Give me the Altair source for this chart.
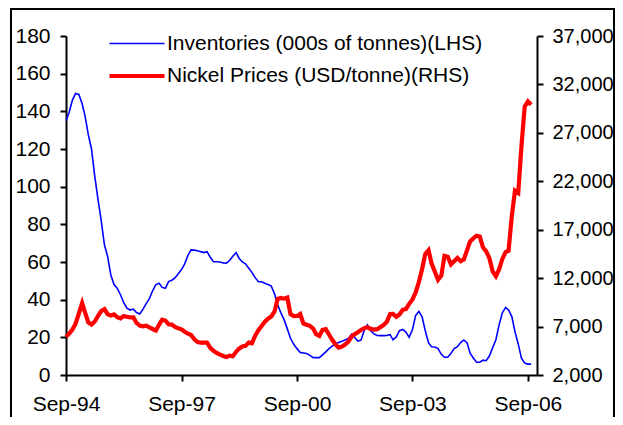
import altair as alt
import pandas as pd

start_month = "1994-09-01"
series_names = ["Inventories (000s of tonnes)(LHS)", "Nickel Prices (USD/tonne)(RHS)"]
series_colors = ["#0000ff", "#ff0000"]
series_widths = [1.6, 4.2]

# Monthly values, Sep-94 .. Oct-06
inventories = [
    135, 139.5, 146, 149.5, 149, 144, 137.5, 127.5, 120, 105.5,
    93.5, 82, 69, 63, 53, 48, 46, 42.5, 38.5, 35.5,
    34.5, 35, 33.2, 32.4, 35, 37.9, 40.7, 44.7, 48, 48.7,
    46.5, 46, 49.6, 50.3, 51.5, 53.7, 56, 59, 63.5, 66.4,
    66.3, 66, 65.5, 65, 65.5, 62.5, 60.2, 60.1, 60, 59.5,
    59.4, 60.8, 63, 65, 62, 60, 59, 56.7, 54.5, 51.7,
    49.5, 49.5, 48.7, 48, 47.2, 43, 37.3, 33, 29.4, 24.5,
    19.5, 16.3, 14, 12, 11.7, 11.4, 10.4, 9.2, 9.2, 9.2,
    10.7, 12.3, 14, 15.3, 16.6, 17.3, 17.9, 18.6, 19.4, 21.7,
    20, 18, 18.5, 23.7, 26.6, 23.5, 21.8, 21, 20.9, 20.9,
    21, 21.4, 18.7, 20.2, 23.5, 24.2, 22.8, 20, 24, 31.5,
    33.8, 31, 23.5, 17, 15, 14.9, 14, 11, 9.4, 9.4,
    11.5, 14, 15, 17.2, 18.6, 17, 11.6, 9, 6.8, 6.8,
    7.9, 7.6, 10.2, 14.5, 18.7, 26.5, 33, 35.9, 34.5, 31,
    23, 16.5, 9, 6.3, 5.8, 5.8,
]
prices = [
    5950, 6270, 6700, 7300, 8350, 9430, 8430, 7430, 7200, 7520,
    8090, 8600, 8800, 8280, 8150, 8250, 7960, 7840, 8080, 8010,
    7955, 7955, 7370, 7100, 7020, 7085, 6910, 6750, 6590, 7210,
    7710, 7620, 7240, 7200, 6960, 6830, 6720, 6470, 6280, 6130,
    5690, 5400, 5340, 5333, 5333, 4800, 4490, 4270, 4110, 3960,
    3850, 3990, 3940, 4400, 4720, 4950, 5010, 5360, 5280, 6050,
    6630, 7060, 7500, 7810, 8040, 8560, 9850, 9960, 9880, 10000,
    8280, 8080, 8100, 8300, 7310, 7190, 7070, 6800, 6220, 6040,
    6660, 6730, 6180, 5630, 5160, 4820, 4930, 5150, 5450, 5970,
    6210, 6420, 6650, 6840, 6940, 6760, 6680, 6730, 6940, 7150,
    7500, 8290, 8300, 8010, 8240, 8730, 8800, 9350, 9800, 10500,
    11600, 12900, 14500, 14880, 13500, 12660, 11830, 12250, 14300, 14200,
    13420, 13750, 14080, 13750, 13930, 14920, 15790, 16107, 16380, 16290,
    15180, 14770, 14040, 12690, 12200, 12890, 13980, 14690, 14828, 18400,
    21040, 20800, 25560, 29700, 30250, 29900,
]
x_tick_years = [1994, 1997, 2000, 2003, 2006]
left_ticks = list(range(0, 181, 20))
right_ticks = list(range(2000, 37001, 5000))

n = len(inventories)
dates = pd.date_range(start_month, periods=n, freq="MS").strftime("%Y-%m-%d").tolist()
df = pd.DataFrame({
    "date": dates + dates,
    "series": [series_names[0]] * n + [series_names[1]] * n,
    "value": inventories + prices,
})

FONT = "Liberation Sans"
FS = 21

x_enc = alt.X(
    "date:T",
    title=None,
    scale=alt.Scale(domain=[alt.DateTime(year=1994, month=9, date=1),
                            alt.DateTime(year=2006, month=11, date=26)]),
    axis=alt.Axis(values=[alt.DateTime(year=y, month=9, date=1) for y in x_tick_years],
                  format="%b-%y", labelPadding=12, labelFlush=False),
)
legend = alt.Legend(title=None, orient="none", legendX=57.5, legendY=-4.5,
                    symbolType="M-2.5,0L2.5,0", symbolSize=484, labelOffset=16.5,
                    labelFont=FONT, labelFontSize=FS, labelColor="black",
                    labelLimit=0, rowPadding=9)
color_enc = alt.Color("series:N", scale=alt.Scale(domain=series_names, range=series_colors), legend=legend)
width_enc = alt.StrokeWidth("series:N", scale=alt.Scale(domain=series_names, range=series_widths), legend=legend)

base = alt.Chart(df)
inv = base.transform_filter(alt.datum.series == series_names[0]).mark_line(interpolate="linear").encode(
    x=x_enc,
    y=alt.Y("value:Q", title=None, scale=alt.Scale(domain=[0, 180], nice=False, zero=False),
            axis=alt.Axis(orient="left", values=left_ticks, labelPadding=10)),
    color=color_enc, strokeWidth=width_enc,
)
price = base.transform_filter(alt.datum.series == series_names[1]).mark_line(interpolate="linear").encode(
    x=x_enc,
    y=alt.Y("value:Q", title=None, scale=alt.Scale(domain=[2000, 37000], nice=False, zero=False),
            axis=alt.Axis(orient="right", values=right_ticks, format=",.0f", labelPadding=9,
                          labelFontSize=20)),
    color=color_enc, strokeWidth=width_enc,
)
frame = alt.Chart(alt.Data(values=[{"k": 1}])).mark_rect(
    fillOpacity=0, stroke="black", strokeWidth=2
).encode(x=alt.value(-55), x2=alt.value(548), y=alt.value(-27), y2=alt.value(420))

chart = alt.layer(frame, inv, price).resolve_scale(y="independent").properties(
    width=471, height=339,
    autosize=alt.AutoSizeParams(type="none"),
    padding={"left": 58, "top": 28, "right": 78, "bottom": 42},
    background="white",
).configure_view(stroke=None).configure_axis(
    grid=False, domainColor="black", domainWidth=2, tickColor="black", tickWidth=2,
    tickSize=6, labelFont=FONT, labelFontSize=FS, labelColor="black",
)

chart.save("out.html", embed_options={"renderer": "svg", "actions": False})
